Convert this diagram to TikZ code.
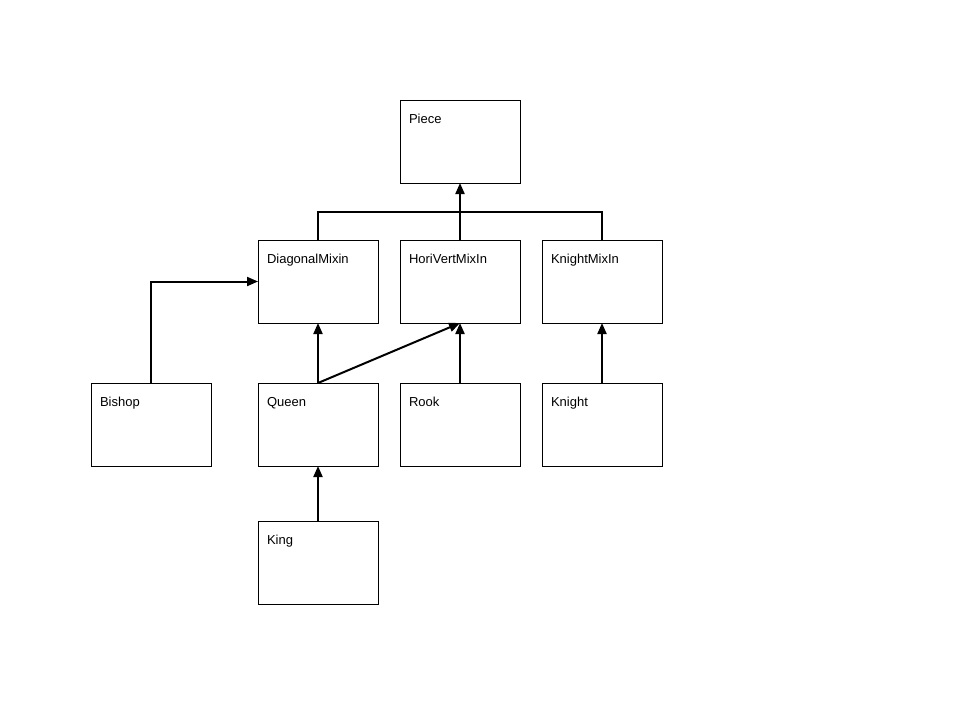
\documentclass[tikz,border=0pt]{standalone}
\usepackage{fontspec}
\setmainfont{Liberation Sans}
\usetikzlibrary{positioning,arrows.meta}
\begin{document}
\begin{tikzpicture}[cls/.style={draw, line width=0.8pt, outer sep=0pt, minimum width=120pt, inner xsep=9pt, inner ysep=0pt,
        text width=102pt, align=left, text height=23pt, text depth=60pt, font=\fontsize{13}{15}\selectfont},
    inherit/.style={line width=2pt, -{Triangle[length=11pt,width=9pt]}}]
    \useasboundingbox (0,0) rectangle (960pt,-720pt);
    \node [cls] (piece) at (460pt,-141.5pt) {Piece};
    \node [cls, below=57pt of piece] (hori) {HoriVertMixIn};
    \node [cls, left=22pt of hori] (diag) {DiagonalMixin};
    \node [cls, right=22pt of hori] (kmix) {KnightMixIn};
    \node [cls, below=60pt of diag] (queen) {Queen};
    \node [cls, below=60pt of hori] (rook) {Rook};
    \node [cls, below=60pt of kmix] (knight) {Knight};
    \node [cls, left=47pt of queen] (bishop) {Bishop};
    \node [cls, below=55pt of queen] (king) {King};
    % mixins up to piece
    \draw [line width=2pt] (diag.north) -- ++(0,28pt) -| (kmix.north);
    \draw [inherit] (hori.north) -- (piece.south);
    % pieces up to mixins
    \draw [inherit] (bishop.north) |- (diag.west);
    \draw [inherit] (queen.north) -- (diag.south);
    \draw [inherit] (queen.north) -- (hori.south);
    \draw [inherit] (rook.north) -- (hori.south);
    \draw [inherit] (knight.north) -- (kmix.south);
    \draw [inherit] (king.north) -- (queen.south);
\end{tikzpicture}
\end{document}
